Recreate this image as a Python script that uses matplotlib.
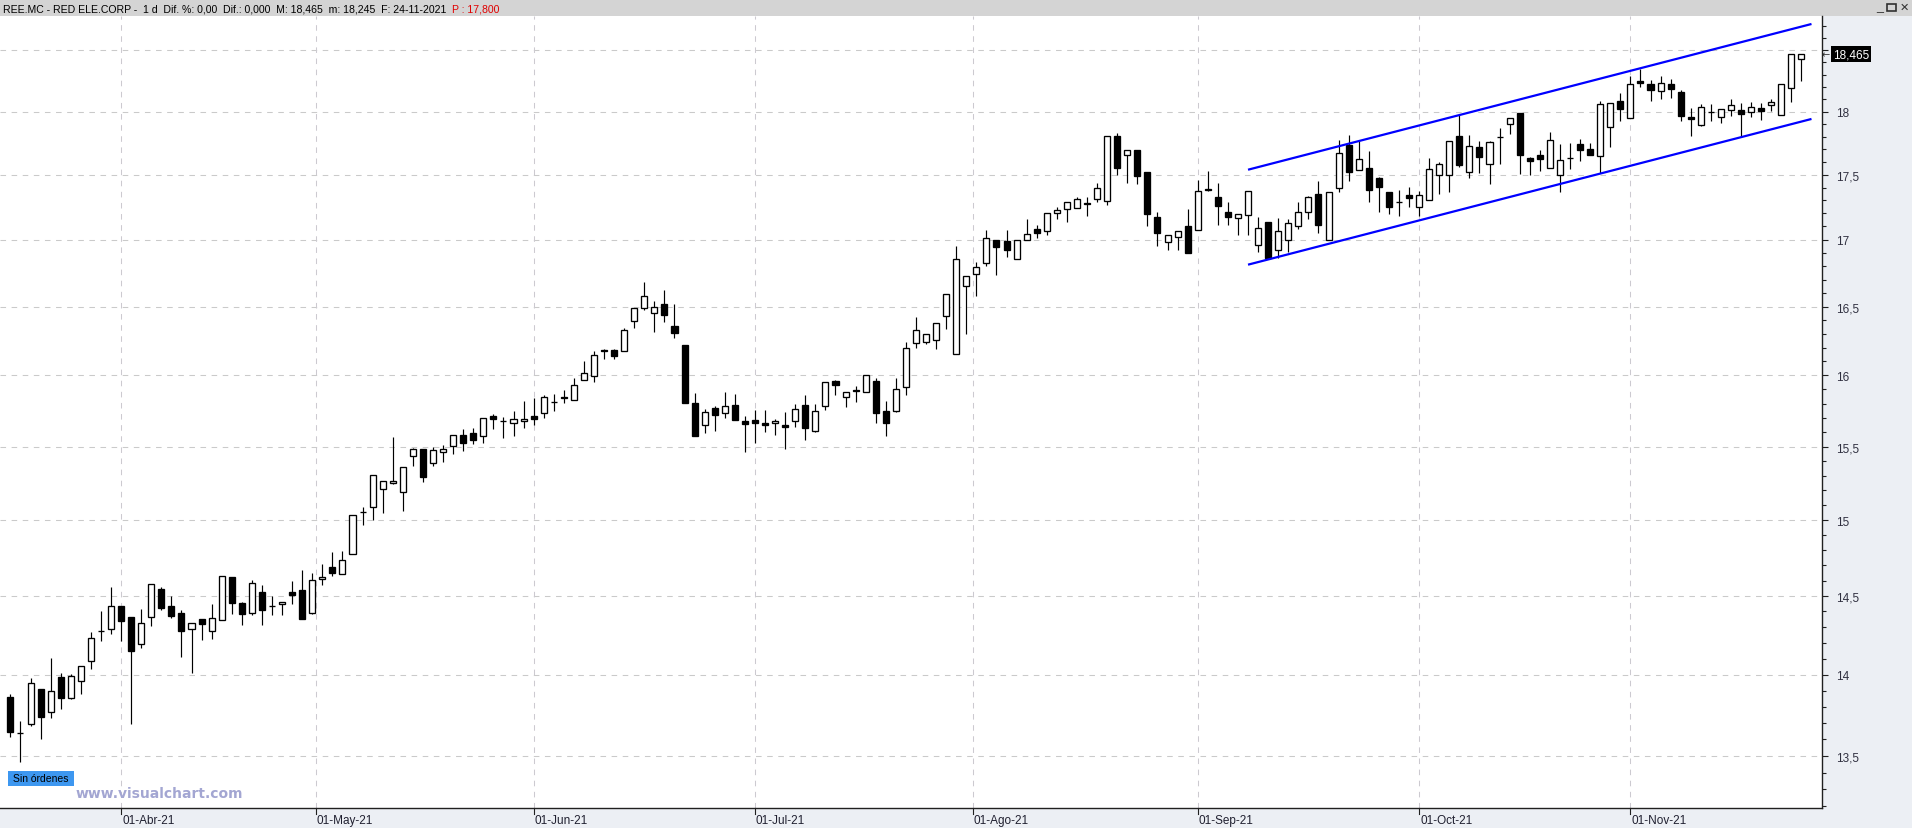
import numpy as np
import pandas as pd
import matplotlib
matplotlib.use('Agg')
import matplotlib.pyplot as plt
from matplotlib.patches import Rectangle
from matplotlib.ticker import FixedLocator, FuncFormatter, NullFormatter

# ---------------- data (REE.MC daily candles, 17-Mar-2021 .. 24-Nov-2021) ----------------
opens = [13.860, 13.642, 13.695, 13.911, 13.766, 13.982, 13.854, 13.957, 14.083, 14.276,
         14.288, 14.436, 14.365, 14.192, 14.365, 14.545, 14.436, 14.393, 14.288, 14.353,
         14.276, 14.346, 14.622, 14.457, 14.391, 14.528, 14.436, 14.449, 14.528, 14.541,
         14.391, 14.607, 14.691, 14.645, 14.776, 15.054, 15.086, 15.209, 15.248, 15.189,
         15.432, 15.486, 15.385, 15.459, 15.507, 15.577, 15.591, 15.570, 15.715, 15.675,
         15.661, 15.675, 15.710, 15.731, 15.808, 15.850, 15.822, 15.969, 15.998, 16.182,
         16.182, 16.172, 16.391, 16.486, 16.450, 16.517, 16.358, 16.221, 15.807, 15.649,
         15.771, 15.733, 15.790, 15.677, 15.684, 15.665, 15.663, 15.651, 15.677, 15.790,
         15.611, 15.783, 15.960, 15.847, 15.896, 15.882, 15.960, 15.748, 15.745, 15.917,
         16.233, 16.243, 16.255, 16.428, 16.154, 16.651, 16.741, 16.824, 17.000, 16.990,
         16.854, 17.000, 17.082, 17.067, 17.206, 17.232, 17.240, 17.281, 17.314, 17.299,
         17.802, 17.651, 17.691, 17.519, 17.175, 16.982, 17.021, 17.101, 17.075, 17.392,
         17.326, 17.210, 17.162, 17.185, 16.962, 17.133, 16.922, 17.000, 17.105, 17.213,
         17.349, 17.000, 17.400, 17.730, 17.540, 17.556, 17.472, 17.362, 17.285, 17.346,
         17.246, 17.305, 17.500, 17.500, 17.802, 17.524, 17.714, 17.587, 17.798, 17.904,
         17.987, 17.633, 17.657, 17.556, 17.497, 17.633, 17.745, 17.705, 17.649, 17.880,
         18.088, 17.952, 18.249, 18.225, 18.168, 18.225, 18.160, 17.960, 17.896, 17.995,
         17.960, 18.016, 18.011, 18.000, 18.027, 18.056, 17.976, 18.193, 18.430]
highs = [13.880, 13.713, 13.978, 13.911, 14.105, 14.009, 14.006, 14.051, 14.269, 14.406,
         14.560, 14.436, 14.365, 14.417, 14.577, 14.558, 14.502, 14.408, 14.327, 14.353,
         14.449, 14.628, 14.622, 14.464, 14.603, 14.571, 14.502, 14.462, 14.598, 14.669,
         14.650, 14.705, 14.785, 14.792, 15.034, 15.090, 15.304, 15.263, 15.565, 15.358,
         15.493, 15.486, 15.500, 15.509, 15.577, 15.621, 15.628, 15.696, 15.724, 15.703,
         15.748, 15.818, 15.839, 15.860, 15.867, 15.895, 15.979, 16.102, 16.172, 16.189,
         16.189, 16.342, 16.488, 16.685, 16.537, 16.621, 16.517, 16.221, 15.877, 15.759,
         15.781, 15.884, 15.868, 15.715, 15.757, 15.757, 15.691, 15.743, 15.799, 15.863,
         15.799, 15.953, 15.967, 15.882, 15.927, 16.000, 15.981, 15.821, 15.983, 16.243,
         16.421, 16.298, 16.380, 16.591, 16.954, 16.726, 16.832, 17.070, 17.000, 17.077,
         17.000, 17.155, 17.113, 17.206, 17.253, 17.291, 17.330, 17.325, 17.438, 17.802,
         17.829, 17.691, 17.691, 17.519, 17.209, 17.036, 17.064, 17.232, 17.456, 17.527,
         17.433, 17.287, 17.192, 17.377, 17.172, 17.133, 17.162, 17.154, 17.285, 17.333,
         17.449, 17.362, 17.770, 17.812, 17.762, 17.685, 17.479, 17.369, 17.379, 17.403,
         17.377, 17.630, 17.598, 17.762, 17.984, 17.810, 17.762, 17.767, 17.872, 17.952,
         17.987, 17.638, 17.692, 17.835, 17.739, 17.747, 17.779, 17.753, 18.083, 18.072,
         18.147, 18.291, 18.348, 18.259, 18.291, 18.267, 18.176, 18.027, 18.059, 18.059,
         18.024, 18.099, 18.072, 18.080, 18.067, 18.102, 18.225, 18.465, 18.465]
lows = [13.614, 13.461, 13.681, 13.600, 13.730, 13.785, 13.845, 13.876, 14.036, 14.212,
        14.254, 14.209, 13.693, 14.167, 14.306, 14.412, 14.357, 14.113, 14.009, 14.216,
        14.222, 14.346, 14.383, 14.312, 14.376, 14.312, 14.376, 14.376, 14.447, 14.350,
        14.383, 14.568, 14.629, 14.645, 14.776, 14.965, 15.002, 15.045, 15.241, 15.059,
        15.363, 15.254, 15.363, 15.396, 15.450, 15.471, 15.519, 15.526, 15.624, 15.561,
        15.575, 15.631, 15.652, 15.701, 15.750, 15.806, 15.822, 15.969, 15.952, 16.121,
        16.121, 16.172, 16.345, 16.476, 16.310, 16.389, 16.267, 15.802, 15.575, 15.597,
        15.611, 15.696, 15.682, 15.463, 15.526, 15.604, 15.583, 15.484, 15.639, 15.547,
        15.604, 15.752, 15.858, 15.774, 15.809, 15.882, 15.667, 15.575, 15.738, 15.863,
        16.195, 16.224, 16.188, 16.332, 16.154, 16.296, 16.580, 16.799, 16.731, 16.867,
        16.854, 17.000, 17.010, 17.039, 17.157, 17.134, 17.240, 17.180, 17.289, 17.265,
        17.497, 17.436, 17.428, 17.103, 16.950, 16.920, 16.920, 16.897, 17.075, 17.374,
        17.113, 17.113, 17.036, 17.036, 16.905, 16.860, 16.860, 16.905, 17.082, 17.154,
        17.049, 17.000, 17.367, 17.451, 17.540, 17.290, 17.208, 17.197, 17.179, 17.249,
        17.179, 17.305, 17.349, 17.364, 17.564, 17.477, 17.513, 17.431, 17.582, 17.822,
        17.503, 17.495, 17.529, 17.556, 17.367, 17.545, 17.609, 17.654, 17.516, 17.715,
        17.926, 17.952, 18.198, 18.086, 18.102, 18.110, 17.926, 17.806, 17.888, 17.926,
        17.907, 17.966, 17.806, 17.958, 17.934, 18.005, 17.976, 18.078, 18.245]
closes = [13.644, 13.638, 13.945, 13.736, 13.896, 13.852, 13.994, 14.051, 14.231, 14.276,
          14.436, 14.338, 14.145, 14.327, 14.577, 14.419, 14.370, 14.274, 14.327, 14.318,
          14.359, 14.628, 14.455, 14.383, 14.583, 14.408, 14.436, 14.462, 14.504, 14.350,
          14.603, 14.622, 14.649, 14.737, 15.034, 15.054, 15.304, 15.263, 15.261, 15.358,
          15.486, 15.291, 15.473, 15.486, 15.577, 15.526, 15.547, 15.696, 15.694, 15.675,
          15.689, 15.689, 15.694, 15.850, 15.808, 15.841, 15.934, 16.019, 16.150, 16.172,
          16.143, 16.328, 16.488, 16.574, 16.500, 16.440, 16.303, 15.802, 15.575, 15.741,
          15.717, 15.785, 15.682, 15.660, 15.667, 15.653, 15.677, 15.634, 15.762, 15.632,
          15.748, 15.953, 15.929, 15.882, 15.887, 16.000, 15.731, 15.667, 15.903, 16.197,
          16.327, 16.298, 16.380, 16.591, 16.851, 16.726, 16.794, 17.013, 16.942, 16.920,
          17.000, 17.044, 17.049, 17.206, 17.229, 17.291, 17.312, 17.273, 17.399, 17.802,
          17.553, 17.691, 17.492, 17.196, 17.049, 17.036, 17.064, 16.897, 17.376, 17.382,
          17.259, 17.174, 17.192, 17.377, 17.092, 16.860, 17.062, 17.123, 17.208, 17.323,
          17.113, 17.362, 17.667, 17.521, 17.627, 17.382, 17.405, 17.251, 17.285, 17.321,
          17.346, 17.542, 17.587, 17.762, 17.574, 17.722, 17.640, 17.754, 17.794, 17.952,
          17.654, 17.609, 17.622, 17.777, 17.612, 17.633, 17.694, 17.654, 18.064, 18.072,
          18.021, 18.225, 18.230, 18.176, 18.233, 18.182, 17.966, 17.942, 18.040, 17.995,
          18.024, 18.056, 17.984, 18.040, 18.005, 18.080, 18.225, 18.465, 18.465]

start_date = '2021-03-17'
end_date = '2021-11-24'
market_holidays = ['2021-04-02', '2021-04-05']
month_abbr = {4: 'Abr', 5: 'May', 6: 'Jun', 7: 'Jul', 8: 'Ago', 9: 'Sep', 10: 'Oct', 11: 'Nov'}

# trend channel (drawn by the user): start / end candle index and prices
channel_x = [123.0, 179.0]
channel_upper = [17.539, 18.718]
channel_lower = [16.811, 17.941]

header_text = 'REE.MC - RED ELE.CORP -  1 d  Dif. %: 0,00  Dif.: 0,000  M: 18,465  m: 18,245  F: 24-11-2021  '
header_red = 'P : 17,800'
last_price_label = '18,465'
last_price = 18.465
price_ticks = [13.5, 14.0, 14.5, 15.0, 15.5, 16.0, 16.5, 17.0, 17.5, 18.0, 18.5]

# ---------------- layout ----------------
W, H = 1912, 829
PX_RIGHT, PX_TOP, PX_BOTTOM = 1822, 17, 809
plt.rcParams['font.family'] = ['Liberation Sans', 'DejaVu Sans']
plt.rcParams['lines.scale_dashes'] = False

dates = pd.bdate_range(start_date, end_date)
dates = dates[~dates.isin(pd.to_datetime(market_holidays))]
n = len(opens)
assert len(dates) == n
idx = np.arange(n)
o = np.array(opens); hi = np.array(highs); lo = np.array(lows); c = np.array(closes)

fig = plt.figure(figsize=(W / 100, H / 100), dpi=100)
fig.patch.set_facecolor('white')


def fx(x):
    return x / W


def fy(y):
    return 1 - y / H


panel_col = '#eceff4'
fig.add_artist(Rectangle((fx(PX_RIGHT), 0), 1 - fx(PX_RIGHT), fy(PX_TOP), transform=fig.transFigure,
                         facecolor=panel_col, edgecolor='none', zorder=-5))
fig.add_artist(Rectangle((0, 0), fx(PX_RIGHT), fy(PX_BOTTOM), transform=fig.transFigure,
                         facecolor=panel_col, edgecolor='none', zorder=-5))
fig.add_artist(Rectangle((0, fy(PX_TOP)), 1, 1 - fy(PX_TOP), transform=fig.transFigure,
                         facecolor='#d4d4d4', edgecolor='none', zorder=-5))

ax = fig.add_axes([0, fy(PX_BOTTOM), fx(PX_RIGHT), (PX_BOTTOM - PX_TOP) / H])
ax.set_facecolor('white')
ax.set_yscale('log')

xpx0 = 10.4
xstep = 10.062
xmin = -xpx0 / xstep
xmax = (PX_RIGHT - xpx0) / xstep
ymax = 18.0 * np.exp((112.6 - PX_TOP) / 2240.0)
ymin = 18.0 * np.exp((112.6 - PX_BOTTOM) / 2240.0)

# grid
dash = (0, (4, 4))
for p in price_ticks:
    ax.axhline(p, color='#cacaca', lw=0.75, linestyle=dash, zorder=1)

# month separators
sep_pos = []
for m in sorted(month_abbr):
    first = pd.Timestamp(2021, m, 1)
    if first in dates:
        pos = float(dates.get_loc(first))
    else:
        prev_i = int(np.searchsorted(dates, first)) - 1
        nxt_i = prev_i + 1
        frac = (first - dates[prev_i]).days / (dates[nxt_i] - dates[prev_i]).days
        pos = prev_i + frac
    sep_pos.append((pos, '01-%s-21' % month_abbr[m]))
    ax.axvline(pos, color='#cccad0', lw=0.75, linestyle=dash, zorder=1)

# candles
ax.vlines(idx, lo, hi, color='black', lw=0.85, zorder=3)
up = c >= o
bottoms = np.minimum(o, c)
heights = np.abs(c - o)
ax.bar(idx, heights, bottom=bottoms, width=0.6,
       color=np.where(up, 'white', 'black'), edgecolor='black', linewidth=0.95, zorder=4)

# channel
ax.plot(channel_x, channel_upper, color='#0000ff', lw=1.6, zorder=5, solid_capstyle='butt')
ax.plot(channel_x, channel_lower, color='#0000ff', lw=1.6, zorder=5, solid_capstyle='butt')

ax.set_xlim(xmin, xmax)
ax.set_ylim(ymin, ymax)

# axes styling
for s in ['top', 'left']:
    ax.spines[s].set_visible(False)
ax.spines['right'].set_color('#202020')
ax.spines['bottom'].set_color('#202020')
ax.spines['right'].set_linewidth(1.0)
ax.spines['bottom'].set_linewidth(1.0)
ax.set_xticks([])
ax.yaxis.tick_right()
ax.yaxis.set_major_locator(FixedLocator(price_ticks))
minor = [round(v, 1) for v in np.arange(13.2, 18.8, 0.1) if all(abs(v - t) > 1e-6 for t in price_ticks)]
ax.yaxis.set_minor_locator(FixedLocator(minor))
ax.yaxis.set_minor_formatter(NullFormatter())


def fmt(v, pos):
    if abs(v - 18.5) < 1e-6:
        return ''
    s = ('%g' % v).replace('.', ',')
    return s


ax.yaxis.set_major_formatter(FuncFormatter(fmt))
ax.tick_params(axis='y', which='major', length=4, width=0.8, pad=6, labelsize=8.5,
               labelcolor='#303040', color='#202020')
ax.tick_params(axis='y', which='minor', length=3, width=0.8, color='#202020')

# date labels & ticks on bottom axis
for pos, lab in sep_pos:
    xp = (pos - xmin) / (xmax - xmin) * PX_RIGHT
    fig.add_artist(plt.Line2D([fx(xp), fx(xp)], [fy(PX_BOTTOM), fy(PX_BOTTOM + 6)],
                              transform=fig.transFigure, color='#202020', lw=0.8))
    fig.text(fx(xp + 1), fy(821), lab, fontsize=8.5, ha='left', va='center', color='#202030')

# header
t = fig.text(fx(3), fy(9), header_text, fontsize=7.6, ha='left', va='center', color='black')
fig.canvas.draw()
bb = t.get_window_extent(renderer=fig.canvas.get_renderer())
fig.text(bb.x1 / W, fy(9), header_red, fontsize=7.6, ha='left', va='center', color='#e00000')
fig.text(fx(1880), fy(7), '_', fontsize=9, ha='center', va='center', color='#303030')
fig.add_artist(Rectangle((fx(1887), fy(12)), fx(9), 7 / H, transform=fig.transFigure,
                         facecolor='none', edgecolor='#303030', lw=1.2))
fig.text(fx(1904), fy(8), '✕', fontsize=8, ha='center', va='center', color='#303030',
         family='DejaVu Sans')

# last price marker
ylast = fy(PX_TOP) - (np.log(ymax) - np.log(last_price)) / (np.log(ymax) - np.log(ymin)) * (PX_BOTTOM - PX_TOP) / H
fig.add_artist(Rectangle((fx(1831), ylast - 8 / H), fx(40), 16 / H, transform=fig.transFigure,
                         facecolor='black', edgecolor='none', zorder=6))
fig.text(fx(1851), ylast, last_price_label, fontsize=8.5, ha='center', va='center', color='white', zorder=7)
fig.text(fx(1826), ylast, '←', fontsize=7, ha='center', va='center', color='#303030', family='DejaVu Sans')

# labels bottom left
fig.add_artist(Rectangle((fx(8), fy(787)), fx(66), 15 / H, transform=fig.transFigure,
                         facecolor='#3d97f0', edgecolor='none', zorder=6))
fig.text(fx(41), fy(779.5), 'Sin órdenes', fontsize=7.5, ha='center', va='center', color='black', zorder=7)
fig.text(fx(76), fy(794), 'www.visualchart.com', fontsize=10, fontweight='bold', ha='left', va='center',
         color='#a3a6d2', family='DejaVu Sans')

fig.savefig('out.png', dpi=100, facecolor=fig.get_facecolor())
